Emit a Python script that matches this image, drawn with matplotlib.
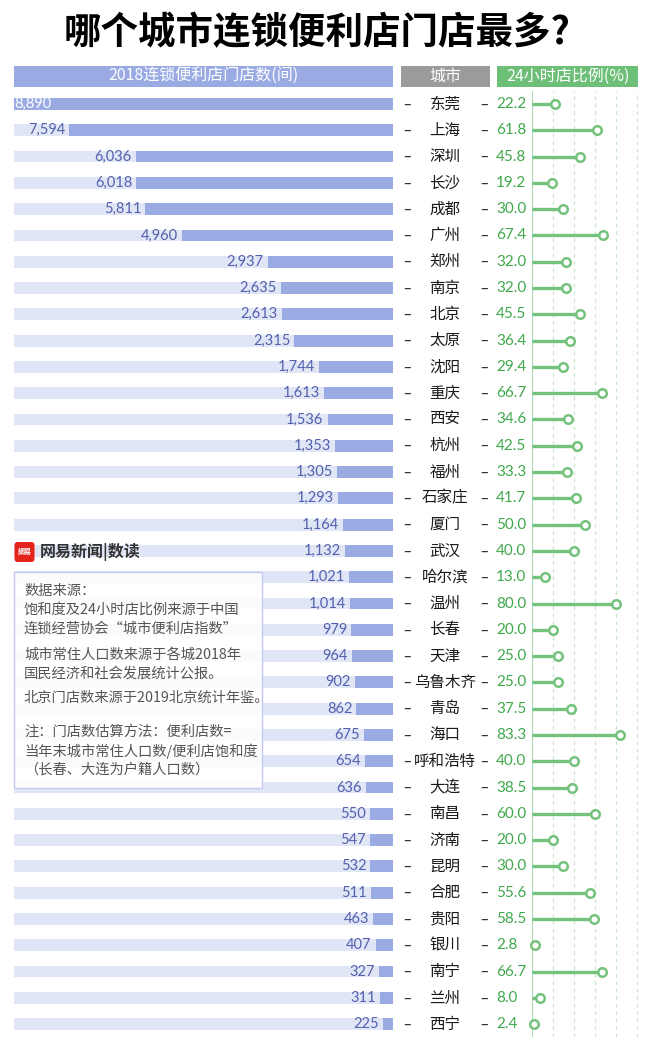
import numpy as np
import matplotlib
matplotlib.use("Agg")
import matplotlib.pyplot as plt
from matplotlib.patches import Rectangle, FancyBboxPatch

plt.rcParams['font.family'] = ['Noto Sans CJK SC', 'DejaVu Sans']

cities = ['东莞', '上海', '深圳', '长沙', '成都', '广州', '郑州', '南京', '北京', '太原',
          '沈阳', '重庆', '西安', '杭州', '福州', '石家庄', '厦门', '武汉', '哈尔滨', '温州',
          '长春', '天津', '乌鲁木齐', '青岛', '海口', '呼和浩特', '大连', '南昌', '济南', '昆明',
          '合肥', '贵阳', '银川', '南宁', '兰州', '西宁']
stores = [8890, 7594, 6036, 6018, 5811, 4960, 2937, 2635, 2613, 2315,
          1744, 1613, 1536, 1353, 1305, 1293, 1164, 1132, 1021, 1014,
          979, 964, 902, 862, 675, 654, 636, 550, 547, 532,
          511, 463, 407, 327, 311, 225]
pct24 = [22.2, 61.8, 45.8, 19.2, 30.0, 67.4, 32.0, 32.0, 45.5, 36.4,
         29.4, 66.7, 34.6, 42.5, 33.3, 41.7, 50.0, 40.0, 13.0, 80.0,
         20.0, 25.0, 25.0, 37.5, 83.3, 40.0, 38.5, 60.0, 20.0, 30.0,
         55.6, 58.5, 2.8, 66.7, 8.0, 2.4]
grid_ticks = [20, 40, 60, 80, 100]

title = '哪个城市连锁便利店门店最多?'
head_bar = '2018连锁便利店门店数(间)'
head_city = '城市'
head_pct = '24小时店比例(%)'
notes = [
    ('数据来源：', 591),
    ('饱和度及24小时店比例来源于中国', 610),
    ('连锁经营协会“城市便利店指数”', 629),
    ('城市常住人口数来源于各城2018年', 655),
    ('国民经济和社会发展统计公报。', 674),
    ('北京门店数来源于2019北京统计年鉴。', 698),
    ('注：门店数估算方法：便利店数=', 731.5),
    ('当年末城市常住人口数/便利店饱和度', 751),
    ('（长春、大连为户籍人口数）', 770),
]

W, H = 649, 1048
BAR_C = '#9aabe4'
STRIPE_C = '#e1e6f6'
LABEL_C = '#5360ad'
GREEN = '#74c27c'
GREEN_TXT = '#3fa84c'

fig = plt.figure(figsize=(W / 100, H / 100), dpi=100)
fig.patch.set_facecolor('white')

n = len(cities)
rows = np.arange(n)
row_px = 26.29
top_px = 104 - row_px / 2
bot_px = top_px + row_px * n
ax_b = (H - bot_px) / H
ax_h = (bot_px - top_px) / H


def axes_at(x0, x1):
    return fig.add_axes([x0 / W, ax_b, (x1 - x0) / W, ax_h])


# bars
ax = axes_at(14, 393)
xmax = max(stores)
upp = xmax / 379.0
ax.barh(rows, [xmax] * n, height=0.45, color=STRIPE_C)
ax.barh(rows, stores, height=0.45, color=BAR_C)
ax.set_xlim(xmax, 0)
ax.set_ylim(n - 0.5, -0.5)
ax.axis('off')
for i, v in enumerate(stores):
    lab = f'{v:,}'
    if v > xmax - 45 * upp:
        ax.text(v, i, lab, ha='left', va='center', fontsize=10.5, color='white',
                family='Lato')
    else:
        ax.text(v + 4 * upp, i, lab, ha='right', va='center', fontsize=10.5,
                color=LABEL_C, family='Lato')

# city column
axm = axes_at(393, 531.7)
axm.set_xlim(393, 531.7)
axm.set_ylim(n - 0.5, -0.5)
axm.axis('off')
for i, c in enumerate(cities):
    axm.text(407, i, '–', ha='center', va='center', fontsize=11, color='#333333',
             family='DejaVu Sans')
    axm.text(445, i, c, ha='center', va='center', fontsize=11.2, color='#1a1a1a',
             fontweight='medium')
    axm.text(484, i, '–', ha='center', va='center', fontsize=11, color='#333333',
             family='DejaVu Sans')
    axm.text(496, i, f'{pct24[i]:.1f}', ha='left', va='center', fontsize=11,
             color=GREEN_TXT, family='Lato')

# lollipops
axp = axes_at(531.7, 638.3)
axp.set_xlim(0, (638.3 - 531.7) / 1.0575)
axp.set_ylim(n - 0.5, -0.5)
axp.axis('off')
for g in grid_ticks:
    axp.axvline(g, color='#c9e7cc', lw=0.9, ls=(0, (3, 3)), zorder=0)
axp.axvline(0, color='#a9dbae', lw=1.5, zorder=1)
axp.hlines(rows, 0, pct24, color=GREEN, lw=2.4, zorder=2)
axp.scatter(pct24, rows, s=38, facecolor='white', edgecolor=GREEN, lw=1.8,
            zorder=3, clip_on=False)

# overlay: title, headers, logo, notes
ov = fig.add_axes([0, 0, 1, 1], zorder=5)
ov.set_xlim(0, W)
ov.set_ylim(H, 0)
ov.axis('off')
ov.patch.set_alpha(0)

ov.text(317, 33, title, ha='center', va='center', fontsize=27, fontweight='black',
        color='black')

for x0, x1, col, txt in [(14, 393, BAR_C, head_bar), (401, 490, '#9b9b9b', head_city),
                         (497, 638.3, '#6dbf77', head_pct)]:
    ov.add_patch(Rectangle((x0, 66), x1 - x0, 20.7, color=col, lw=0))
    ov.text((x0 + x1) / 2, 76.6, txt, ha='center', va='center', fontsize=11.5,
            color='white')

ov.add_patch(FancyBboxPatch((14.5, 542), 20, 20, boxstyle='round,pad=0,rounding_size=3',
                            fc='#e3241d', ec='none'))
ov.text(24.5, 551, '網易', ha='center', va='center', fontsize=5, color='white',
        fontweight='bold')
ov.text(40, 552, '网易新闻|数读', ha='left', va='center', fontsize=11.5,
        fontweight='bold', color='#333333')

ov.add_patch(Rectangle((14, 571.7), 248, 216.3, fc='white', alpha=0.88, ec='none'))
ov.add_patch(Rectangle((14, 571.7), 248, 216.3, fc='none', ec='#c3caee', lw=1))
for txt, y in notes:
    ov.text(24, y, txt, ha='left', va='center', fontsize=10.3, color='#555555')

fig.savefig('out.png', dpi=100, facecolor='white')
